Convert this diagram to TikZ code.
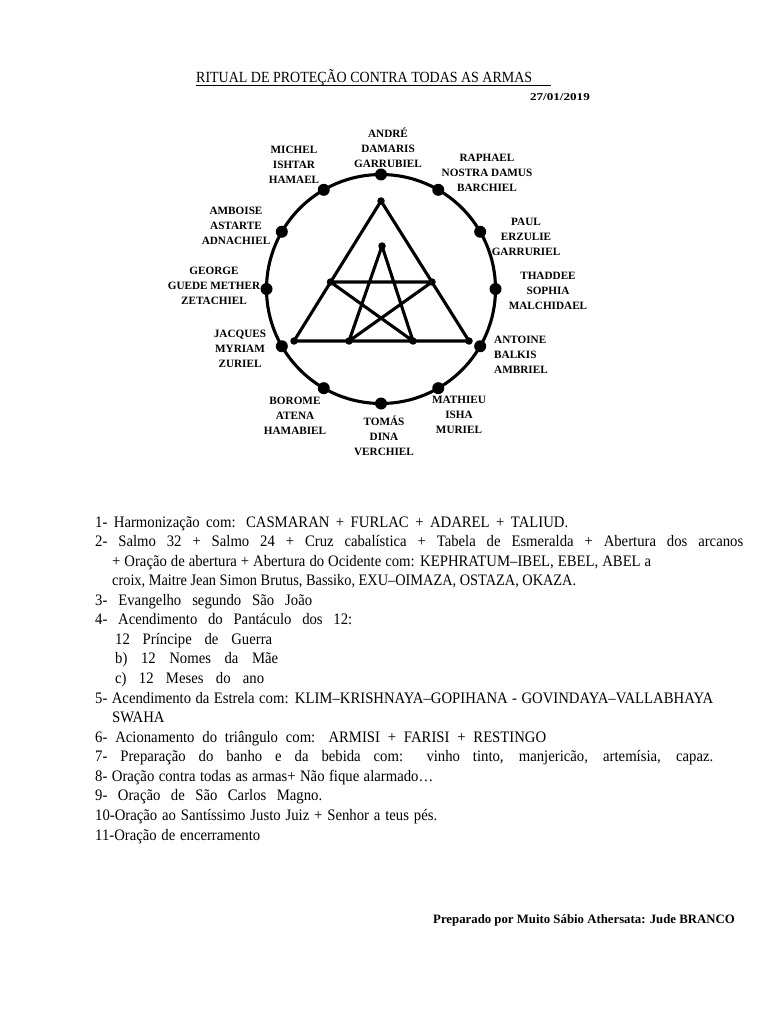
\documentclass[tikz,border=0pt]{standalone}
\usepackage{fontspec}
\setmainfont{Liberation Serif}
\newlength\jlw
\newcommand\jline[2]{\settowidth\jlw{#2}\ifdim0.92\jlw>#1pt\relax\resizebox{#1pt}{\height}{#2}\else\scalebox{0.92}[1]{\makebox[\dimexpr #1pt*100/92\relax][s]{#2}}\fi}
\begin{document}
\begin{tikzpicture}[x=1pt,y=-1pt,
  bigdot/.style={circle,fill=black,inner sep=0pt,minimum size=12pt},
  smalldot/.style={circle,fill=black,inner sep=0pt,minimum size=7.5pt},
  ring/.style={line width=3.1pt},
  edge/.style={line width=3.1pt,line join=round,line cap=round},
  lbl/.style={font=\fontsize{11.2}{15}\selectfont\bfseries,align=center,inner sep=0pt},
  body/.style={font=\fontsize{16}{19}\selectfont,anchor=base west,inner sep=0pt}]
\useasboundingbox (0,0) rectangle (768,1024);
\fill[white] (0,0) rectangle (768,1024);

% title and date
\node[anchor=base west,inner sep=0pt,font=\fontsize{15.5}{17}\selectfont] (title) at (196,82.5)
  {\jline{336}{RITUAL DE PROTEÇÃO CONTRA TODAS AS ARMAS}};
\draw[line width=0.8pt] ([yshift=-3pt]title.base west) -- ++(355,0);
\node[anchor=base east,inner sep=0pt,font=\fontsize{10.5}{12}\selectfont\bfseries] (date) at (590,100.5)
  {\scalebox{1.25}[1]{27/01/2019}};

% circle with 12 dots
\coordinate (c) at (381,289);
\draw[ring] (c) circle[radius=114.5pt];
\begin{scope}[shift={(381,289)}]
\foreach \a/\n in {90/dAndre,60/dRaphael,30/dPaul,0/dThaddee,-30/dAntoine,-60/dMathieu,
                   -90/dTomas,-120/dBorome,-150/dJacques,180/dGeorge,150/dAmboise,120/dMichel}
  \node[bigdot] (\n) at (\a:114.5pt) {};
\end{scope}

% triangle and star vertices
\node[smalldot] (tTop) at (381,201) {};
\node[smalldot] (tBL) at (294,341) {};
\node[smalldot] (tBR) at (469,341) {};
\node[smalldot] (sTop) at (382,246) {};
\node[smalldot] (sML) at (330.5,282) {};
\node[smalldot] (sMR) at (432,282) {};
\node[smalldot] (sBL) at (349,341) {};
\node[smalldot] (sBR) at (413,341) {};

\draw[edge] (tTop.center) -- (tBL.center) -- (tBR.center) -- cycle;
\draw[edge] (sTop.center) -- (sBL.center) -- (sMR.center) -- (sML.center) -- (sBR.center) -- cycle;

% labels
\node[lbl] (nAndre) at (388,148) {ANDRÉ\\DAMARIS\\GARRUBIEL};
\node[lbl] (nMichel) at (294,165) {MICHEL\\ISHTAR\\HAMAEL};
\node[lbl] (nRaphael) at (487,173) {RAPHAEL\\NOSTRA DAMUS\\BARCHIEL};
\node[lbl] (nPaul) at (526,237) {PAUL\\ERZULIE\\GARRURIEL};
\node[lbl] (nThaddee) at (548,291) {THADDEE\\SOPHIA\\MALCHIDAEL};
\node[lbl,align=left,anchor=west] (nAntoine) at (494,355) {ANTOINE\\BALKIS\\AMBRIEL};
\node[lbl] (nMathieu) at (459,415) {MATHIEU\\ISHA\\MURIEL};
\node[lbl] (nTomas) at (384,436) {TOMÁS\\DINA\\VERCHIEL};
\node[lbl] (nBorome) at (295,416) {BOROME\\ATENA\\HAMABIEL};
\node[lbl] (nJacques) at (240,349) {JACQUES\\MYRIAM\\ZURIEL};
\node[lbl] (nGeorge) at (214,286) {GEORGE\\GUEDE METHER\\ZETACHIEL};
\node[lbl] (nAmboise) at (236,226) {AMBOISE\\ASTARTE\\ADNACHIEL};

% body text
\node[body] (t1) at (95,527) {\jline{473}{1- Harmonização com: CASMARAN + FURLAC + ADAREL + TALIUD.}};
\node[body] (t2) at (95,546.6) {\jline{648}{2- Salmo 32 + Salmo 24 + Cruz cabalística + Tabela de Esmeralda + Abertura dos arcanos}};
\node[body] (t3) at (112,566.1) {\jline{539}{+ Oração de abertura + Abertura do Ocidente com: KEPHRATUM–IBEL, EBEL, ABEL a}};
\node[body] (t4) at (112,585.7) {\jline{464}{croix, Maitre Jean Simon Brutus, Bassiko, EXU–OIMAZA, OSTAZA, OKAZA.}};
\node[body] (t5) at (95,605.2) {\jline{217}{3- Evangelho segundo São João}};
\node[body] (t6) at (95,624.8) {\jline{257}{4- Acendimento do Pantáculo dos 12:}};
\node[body] (t7) at (115,644.4) {\jline{157}{12 Príncipe de Guerra}};
\node[body] (t8) at (115,663.9) {\jline{163}{b) 12 Nomes da Mãe}};
\node[body] (t9) at (115,683.5) {\jline{149}{c) 12 Meses do ano}};
\node[body] (t10) at (95,703) {\jline{618}{5- Acendimento da Estrela com: KLIM–KRISHNAYA–GOPIHANA - GOVINDAYA–VALLABHAYA}};
\node[body] (t11) at (112,722.6) {\scalebox{0.92}[1]{SWAHA}};
\node[body] (t12) at (95,742.2) {\jline{451}{6- Acionamento do triângulo com: ARMISI + FARISI + RESTINGO}};
\node[body] (t13) at (95,761.7) {\jline{618}{7- Preparação do banho e da bebida com: vinho tinto, manjericão, artemísia, capaz.}};
\node[body] (t14) at (95,781.3) {\jline{338}{8- Oração contra todas as armas+ Não fique alarmado…}};
\node[body] (t15) at (95,800.8) {\jline{227}{9- Oração de São Carlos Magno.}};
\node[body] (t16) at (95,820.4) {\jline{342}{10-Oração ao Santíssimo Justo Juiz + Senhor a teus pés.}};
\node[body] (t17) at (95,840) {\jline{165}{11-Oração de encerramento}};

% footer
\node[anchor=base west,inner sep=0pt,font=\fontsize{12.8}{15}\selectfont\bfseries] (foot) at (433,923)
  {Preparado por Muito Sábio Athersata: Jude BRANCO};
\end{tikzpicture}
\end{document}
